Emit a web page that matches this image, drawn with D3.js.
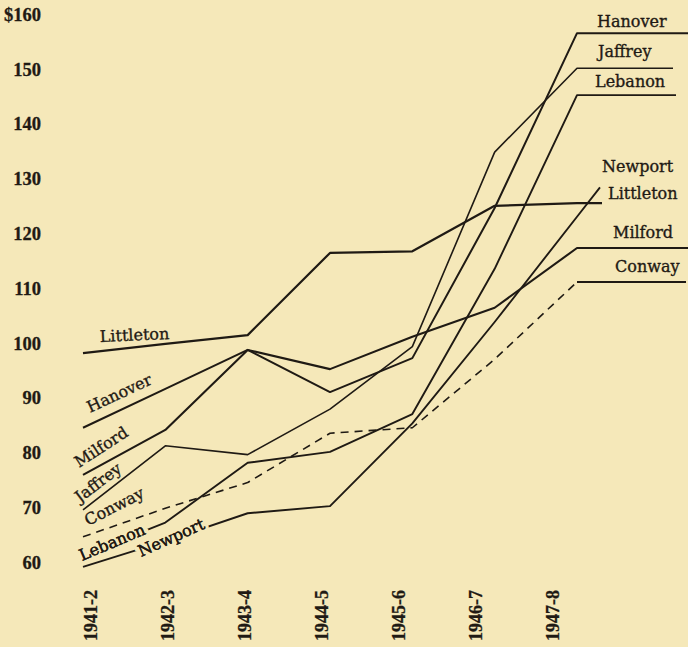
<!DOCTYPE html>
<html><head><meta charset="utf-8">
<script src="https://cdn.jsdelivr.net/npm/d3@7"></script>
<style>
html,body{margin:0;padding:0;background:#f5e8b9;}
svg{display:block;}
</style>
</head><body>
<svg id="chart" width="688" height="647"></svg>
<script>
// ---------- data ----------
const years = ["1941-2","1942-3","1943-4","1944-5","1945-6","1946-7","1947-8"];
const yTicks = [60,70,80,90,100,110,120,130,140,150,160];
const seriesNames = ["Hanover","Jaffrey","Lebanon","Newport","Littleton","Milford","Conway"];
const hanover   = [84.5, 91.6, 98.7, 91.0, 97.2, 124.6, 156.5];
const jaffrey   = [69.5, 81.2, 79.6, 87.9, 99.3, 134.8, 150.1];
const lebanon   = [61.2, 67.2, 78.1, 80.1, 87.0, 113.5, 145.2];
const newport   = [59.1, 63.8, 68.9, 70.2, 85.3, 103.8, 123.0];
const littleton = [98.1, 99.8, 101.4, 116.4, 116.7, 125.0, 125.5];
const milford   = [75.9, 84.1, 98.7, 95.2, 101.1, 106.4, 117.3];
const conway    = [64.6, 69.8, 74.5, 83.5, 84.5, 97.0, 111.1];
const values = {Hanover:hanover, Jaffrey:jaffrey, Lebanon:lebanon, Newport:newport,
                Littleton:littleton, Milford:milford, Conway:conway};

// ---------- layout / style (not data) ----------
const W = 688, H = 647;
const bg = "#f5e8b9", ink = "#1f1a14";
const style = {
  Hanover:{w:2.0}, Jaffrey:{w:1.6}, Lebanon:{w:1.9}, Newport:{w:1.9},
  Littleton:{w:2.2}, Milford:{w:2.1}, Conway:{w:1.6, dash:"8,6"}
};
// tail: how the line continues beyond the last point (to the right-hand label)
const tails = {
  Hanover:{to:688, mode:"flat"}, Jaffrey:{to:673, mode:"flat"}, Lebanon:{to:676, mode:"flat"},
  Newport:{to:600, mode:"extend"}, Littleton:{to:602, mode:"flat"},
  Milford:{to:688, mode:"flat"}, Conway:{to:686, mode:"flat"}
};
const rightLabels = {
  Hanover:[597,27], Jaffrey:[598,57], Lebanon:[595,87], Newport:[602,172],
  Littleton:[608,199], Milford:[613,238], Conway:[615,272]
};
const leftLabels = {
  Littleton:{p:[100,342], a:-2.5},
  Hanover:{p:[90,413], a:-25},
  Milford:{p:[79,468], a:-33},
  Jaffrey:{p:[80,503], a:-37},
  Conway:{p:[88,526], a:-27},
  Lebanon:{p:[82,561], a:-23, halo:true},
  Newport:{p:[141,557], a:-24, halo:true}
};

const svg = d3.select("#chart");
svg.append("rect").attr("width",W).attr("height",H).attr("fill",bg);

const x = d3.scalePoint().domain(years).range([83,577]);
const xLab = d3.scalePoint().domain(years).range([90,552]);
const y = d3.scaleLinear().domain([60,160]).range([562,14]);

// ---------- axes ----------
const yAxis = d3.axisLeft(y).tickValues(yTicks)
  .tickFormat(d => d===160 ? "$"+d : d).tickSize(0).tickPadding(0);
const gy = svg.append("g").attr("transform","translate(41,0)").call(yAxis);
gy.select(".domain").remove();
gy.selectAll("text")
  .attr("font-family","'Liberation Serif', serif").attr("font-weight","bold")
  .attr("font-size",18.5).attr("fill",ink).attr("stroke",ink).attr("stroke-width",0.3)
  .attr("x",0).attr("dy","0.34em");

const xAxis = d3.axisBottom(xLab).tickSize(0).tickPadding(0);
const gx = svg.append("g").attr("transform","translate(0,641)").call(xAxis);
gx.select(".domain").remove();
gx.selectAll("text")
  .attr("font-family","'Liberation Serif', serif").attr("font-weight","bold")
  .attr("font-size",18).attr("fill",ink).attr("stroke",ink).attr("stroke-width",0.3)
  .attr("transform","rotate(-90)")
  .attr("text-anchor","start").attr("x",0).attr("y",0).attr("dy","0.34em");

// ---------- lines ----------
const line = d3.line().x(d=>d[0]).y(d=>d[1]);
seriesNames.forEach(name => {
  const vals = values[name];
  const pts = vals.map((v,i)=>[x(years[i]), y(v)]);
  const t = tails[name];
  const last = pts[pts.length-1];
  let end;
  if (t.mode === "flat") {
    end = [t.to, last[1]];
  } else {
    const prev = pts[pts.length-2];
    const slope = (last[1]-prev[1])/(last[0]-prev[0]);
    end = [t.to, last[1] + slope*(t.to-last[0])];
  }
  const st = style[name];
  if (st.dash) {
    svg.append("path").datum(pts)
      .attr("d", line).attr("fill","none").attr("stroke",ink)
      .attr("stroke-width", st.w).attr("stroke-linejoin","round")
      .attr("stroke-dasharray", st.dash);
    svg.append("path").datum([last, end])
      .attr("d", line).attr("fill","none").attr("stroke",ink)
      .attr("stroke-width", st.w + 0.4);
  } else {
    svg.append("path").datum(pts.concat([end]))
      .attr("d", line).attr("fill","none").attr("stroke",ink)
      .attr("stroke-width", st.w).attr("stroke-linejoin","round");
  }
});

// ---------- labels ----------
const labFont = "'DejaVu Serif', serif";
seriesNames.forEach(name => {
  const r = rightLabels[name];
  svg.append("text").attr("x",r[0]).attr("y",r[1]).text(name)
    .attr("font-family",labFont).attr("font-size",16).attr("fill",ink)
    .attr("stroke",ink).attr("stroke-width",0.35);
  const l = leftLabels[name];
  const t = svg.append("text").text(name)
    .attr("transform",`translate(${l.p[0]},${l.p[1]}) rotate(${l.a})`)
    .attr("font-family",labFont).attr("font-size",16).attr("fill",ink);
  if (l.halo) {
    t.attr("stroke",bg).attr("stroke-width",7).attr("paint-order","stroke");
    svg.append("text").text(name)
      .attr("transform",`translate(${l.p[0]},${l.p[1]}) rotate(${l.a})`)
      .attr("font-family",labFont).attr("font-size",16).attr("fill",ink)
      .attr("stroke",ink).attr("stroke-width",0.35);
  } else {
    t.attr("stroke",ink).attr("stroke-width",0.35);
  }
});
</script>
</body></html>
